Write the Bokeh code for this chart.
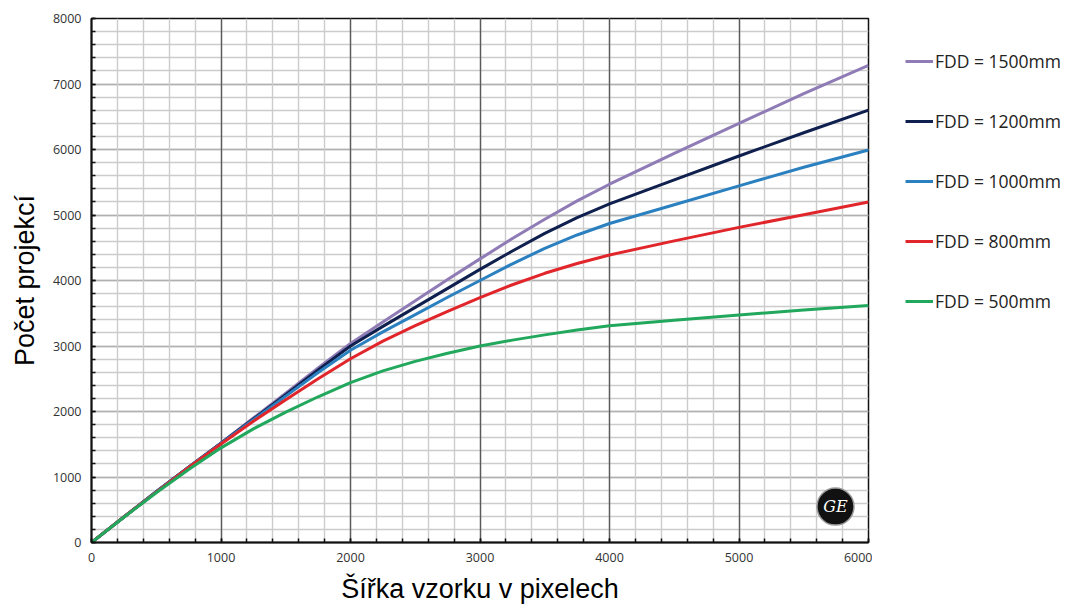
from bokeh.plotting import figure
from bokeh.layouts import row
from bokeh.models import (Range1d, SingleIntervalTicker, Legend, LegendItem,
                          ColumnDataSource)
from bokeh.embed import file_html
from bokeh.resources import INLINE
from bokeh.core.properties import value

# ---- data ----
sample_width = [0, 250, 500, 750, 1000, 1250, 1500, 1750, 2000, 2250, 2500, 2750,
                3000, 3250, 3500, 3750, 4000, 4500, 5000, 5500, 6000]
fdd_1500 = [0, 390, 775, 1150, 1520, 1900, 2280, 2665, 3040, 3365, 3690, 4015,
            4330, 4640, 4935, 5215, 5470, 5942, 6398, 6854, 7285]
fdd_1200 = [0, 390, 775, 1150, 1515, 1885, 2255, 2635, 3000, 3300, 3590, 3880,
            4170, 4450, 4720, 4960, 5170, 5536, 5901, 6256, 6601]
fdd_1000 = [0, 390, 775, 1150, 1512, 1875, 2235, 2595, 2935, 3215, 3480, 3745,
            4000, 4255, 4490, 4695, 4870, 5156, 5445, 5729, 5992]
fdd_800 = [0, 390, 770, 1145, 1505, 1850, 2180, 2500, 2805, 3075, 3310, 3530,
           3740, 3935, 4110, 4260, 4390, 4605, 4811, 5004, 5197]
fdd_500 = [0, 385, 760, 1115, 1445, 1735, 1990, 2225, 2440, 2620, 2765, 2890,
           3000, 3090, 3170, 3245, 3310, 3392, 3473, 3549, 3620]

series_labels = ["FDD = 1500mm", "FDD = 1200mm", "FDD = 1000mm", "FDD = 800mm", "FDD = 500mm"]
series_values = [fdd_1500, fdd_1200, fdd_1000, fdd_800, fdd_500]
series_colors = ["#8f7bb5", "#0f1f4e", "#2b80c0", "#e1262b", "#22a85c"]

x_title = "Šířka vzorku v pixelech"
y_title = "Počet projekcí"

H = 606
W1 = 872
W2 = 198
p = figure(width=W1, height=H, output_backend="svg", toolbar_location=None,
           x_range=Range1d(0, 6000), y_range=Range1d(0, 8000),
           min_border_left=91, min_border_right=W1 - 868, min_border_top=18,
           min_border_bottom=H - 544)
p.background_fill_color = "white"
p.border_fill_color = "white"
p.outline_line_color = "#111111"
p.outline_line_width = 1.5

xt = SingleIntervalTicker(interval=1000, num_minor_ticks=5)
yt = SingleIntervalTicker(interval=1000, num_minor_ticks=5)
p.xaxis.ticker = xt
p.yaxis.ticker = yt
p.xgrid.ticker = xt
p.ygrid.ticker = yt

p.xgrid.grid_line_color = "#5a5a5a"
p.xgrid.grid_line_width = 1.4
p.xgrid.minor_grid_line_color = "#cccccc"
p.xgrid.minor_grid_line_width = 1.4
p.ygrid.grid_line_color = "#b0b0b0"
p.ygrid.grid_line_width = 1.4
p.ygrid.minor_grid_line_color = "#cccccc"
p.ygrid.minor_grid_line_width = 1.4
# draw horizontal grid first so the dark vertical lines stay unbroken
xg = p.xgrid[0]
yg = p.ygrid[0]
p.center = [yg, xg]

for ax in (p.xaxis[0], p.yaxis[0]):
    ax.axis_line_color = "#111111"
    ax.axis_line_width = 2
    ax.major_tick_in = 4
    ax.major_tick_out = 0
    ax.minor_tick_in = 4
    ax.minor_tick_out = 0
    ax.major_tick_line_color = "#111111"
    ax.minor_tick_line_color = "#111111"
    ax.major_tick_line_width = 1.5
    ax.minor_tick_line_width = 1.5
    ax.major_label_text_font = "Open Sans"
    ax.major_label_text_font_size = "12.5px"
    ax.major_label_text_color = "#333333"
    ax.axis_label_text_font = "Liberation Sans"
    ax.axis_label_text_font_size = "27px"
    ax.axis_label_text_font_style = "normal"
    ax.axis_label_text_color = "#000000"

p.xaxis.axis_label = x_title
p.yaxis.axis_label = y_title
p.xaxis.major_label_standoff = 10
p.yaxis.major_label_standoff = 10
p.xaxis.axis_label_standoff = 9
p.yaxis.axis_label_standoff = 10

for vals, col in zip(series_values, series_colors):
    src = ColumnDataSource(dict(x=sample_width, y=vals))
    p.line("x", "y", source=src, line_color=col, line_width=3, line_join="round")

# GE logo (decoration)
logo_x = [5745]
logo_y = [548]
p.scatter(logo_x, logo_y, size=37, fill_color="#111111", line_color="#999999", line_width=1.5)
p.text(logo_x, logo_y, text=["GE"], text_color="white", text_font=value("DejaVu Serif"),
       text_font_style="italic", text_font_size="16px", text_align="center",
       text_baseline="middle")

# legend panel to the right of the chart (its lines hold no data points)
lp = figure(width=W2, height=H, output_backend="svg", toolbar_location=None,
            x_range=Range1d(0, 1), y_range=Range1d(0, 1), min_border=0,
            outline_line_color=None)
lp.axis.visible = False
lp.grid.visible = False
nan = float("nan")
legend_renderers = []
for col in series_colors:
    legend_renderers.append(lp.line(x=[nan], y=[nan], line_color=col, line_width=3))
items = [LegendItem(label=lab, renderers=[r]) for lab, r in zip(series_labels, legend_renderers)]
legend = Legend(items=items, location=(33, 229), padding=0, margin=0,
                glyph_width=28, glyph_height=20, label_height=20, spacing=36,
                label_standoff=2, border_line_color=None, background_fill_alpha=0,
                label_text_font="Open Sans", label_text_font_size="17.5px",
                label_text_color="#222222")
lp.add_layout(legend, "center")

layout = row(p, lp, spacing=0)
open("out.html", "w").write(file_html(layout, INLINE))
